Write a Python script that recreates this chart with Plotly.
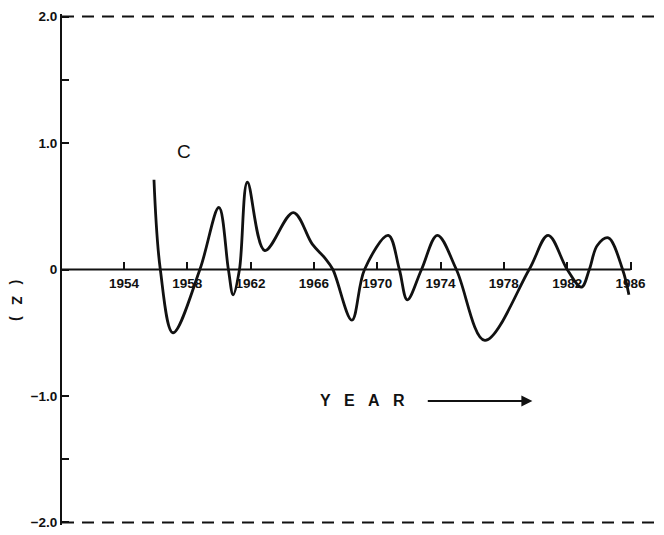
import plotly.graph_objects as go

# Z index curve, read as (year, value) pairs
years = [1955.9, 1956.3, 1957.1, 1958.8, 1960.0, 1960.6, 1960.9, 1961.3, 1961.8,
         1962.9, 1964.7, 1965.9, 1966.7, 1967.2, 1968.4, 1969.2, 1970.7, 1971.4,
         1971.9, 1972.8, 1973.8, 1975.0, 1976.8, 1979.6, 1980.8, 1982.0, 1982.9,
         1983.4, 1983.9, 1984.6, 1985.5, 1985.9]
z_values = [0.71, 0.0, -0.50, 0.0, 0.49, 0.0, -0.20, 0.0, 0.69,
            0.15, 0.45, 0.20, 0.09, 0.0, -0.40, 0.0, 0.27, 0.0,
            -0.24, 0.0, 0.27, 0.0, -0.56, 0.0, 0.27, 0.0, -0.14,
            0.0, 0.19, 0.25, 0.0, -0.20]

x_ticks = [1954, 1958, 1962, 1966, 1970, 1974, 1978, 1982, 1986]
y_ticks = [-2.0, -1.5, -1.0, 0.0, 1.0, 1.5, 2.0]
y_tick_text = ["\u22122.0", "", "\u22121.0", "0", "1.0", "", "2.0"]
limit_levels = [2.0, -2.0]

x_min, x_max = 1950.09, 1987.8
y_min, y_max = -2.02, 2.02

font_main = dict(family="Liberation Sans", size=13.5, color="#111", weight="bold")

fig = go.Figure()
fig.add_trace(go.Scatter(
    x=years, y=z_values, mode="lines",
    line=dict(color="#111", width=2.8, shape="spline", smoothing=1.0),
    hoverinfo="skip", showlegend=False,
))

# dashed limits at +/-2
for lv in limit_levels:
    fig.add_shape(type="line", xref="x", yref="y", x0=x_min, x1=x_max - 0.15,
                  y0=lv, y1=lv, line=dict(color="#111", width=2, dash="12px,8px"))

# zero baseline up to the last year tick
fig.add_shape(type="line", xref="x", yref="y", x0=x_min, x1=x_ticks[-1],
              y0=0, y1=0, line=dict(color="#111", width=2))

fig.add_annotation(x=1957.8, y=0.93, text="C", showarrow=False,
                   font=dict(family="Liberation Sans", size=19, color="#111"))
fig.add_annotation(x=1969.1, y=-1.035, text="Y\u00a0\u00a0\u00a0E\u00a0\u00a0\u00a0A\u00a0\u00a0\u00a0R",
                   showarrow=False, xanchor="center",
                   font=dict(family="Liberation Sans", size=16, color="#111", weight="bold"))
fig.add_annotation(x=1979.8, y=-1.04, ax=1973.1, ay=-1.04, axref="x", ayref="y",
                   text="", showarrow=True, arrowhead=2, arrowsize=1.1, arrowwidth=2,
                   arrowcolor="#111")
fig.add_annotation(xref="paper", yref="paper", x=-0.093, y=0.44,
                   text="(\u00a0\u00a0\u00a0Z\u00a0\u00a0\u00a0)", textangle=90, showarrow=False,
                   font=dict(family="Liberation Sans", size=14, color="#111", weight="bold"))

fig.update_layout(
    width=664, height=535,
    margin=dict(l=62, r=5, t=14, b=6),
    paper_bgcolor="white", plot_bgcolor="white",
    xaxis=dict(range=[x_min, x_max], tickvals=x_ticks, ticktext=[str(t) for t in x_ticks],
               ticks="inside", ticklen=8, tickwidth=1.5, tickcolor="#111",
               ticklabelstandoff=4,
               showline=False, showgrid=False, zeroline=False,
               anchor="free", position=0.5, tickfont=font_main),
    yaxis=dict(range=[y_min, y_max], tickvals=y_ticks, ticktext=y_tick_text,
               ticks="inside", ticklen=7, tickwidth=2, tickcolor="#111",
               showline=True, linewidth=2, linecolor="#111",
               showgrid=False, zeroline=False, tickfont=font_main),
)

fig.write_html("out.html")
